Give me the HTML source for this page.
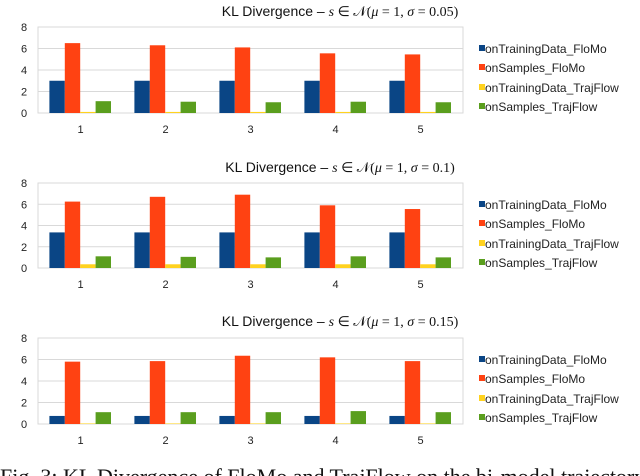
<!DOCTYPE html>
<html><head><meta charset="utf-8"><style>
body{margin:0;background:#fff;width:640px;height:476px;overflow:hidden;}
svg{display:block;}
</style></head><body>
<svg id="c" width="640" height="476" font-family="Liberation Sans, sans-serif"></svg>
<script>
const categories=["1","2","3","4","5"];
const seriesNames=["onTrainingData_FloMo","onSamples_FloMo","onTrainingData_TrajFlow","onSamples_TrajFlow"];
const yTicks=[0,2,4,6,8];
const chartTitles=["σ = 0.05","σ = 0.1","σ = 0.15"];
const c1TrainFloMo=[3,3,3,3,3];
const c1SampFloMo=[6.5,6.3,6.1,5.55,5.45];
const c1TrainTraj=[0.1,0.1,0.1,0.1,0.1];
const c1SampTraj=[1.1,1.05,1.0,1.05,1.0];
const c2TrainFloMo=[3.35,3.35,3.35,3.35,3.35];
const c2SampFloMo=[6.25,6.7,6.9,5.9,5.55];
const c2TrainTraj=[0.35,0.35,0.35,0.35,0.35];
const c2SampTraj=[1.1,1.05,1.0,1.1,1.0];
const c3TrainFloMo=[0.75,0.75,0.75,0.75,0.75];
const c3SampFloMo=[5.8,5.85,6.35,6.2,5.85];
const c3TrainTraj=[0.05,0.05,0.05,0.05,0.05];
const c3SampTraj=[1.1,1.1,1.1,1.2,1.1];
const colors=["#0a4585","#ff4212","#ffd21f","#5a9e1e"];
const svg=document.getElementById('c');
const NS="http://www.w3.org/2000/svg";
function mk(t,a,p){const e=document.createElementNS(NS,t);for(const k in a)e.setAttribute(k,a[k]);(p||svg).appendChild(e);return e;}
const charts=[
 {data:[c1TrainFloMo,c1SampFloMo,c1TrainTraj,c1SampTraj],top:27,bot:113,ty:16,leg:[50,69,89,108]},
 {data:[c2TrainFloMo,c2SampFloMo,c2TrainTraj,c2SampTraj],top:183,bot:268,ty:172,leg:[206,225,245,264]},
 {data:[c3TrainFloMo,c3SampFloMo,c3TrainTraj,c3SampTraj],top:338,bot:424,ty:326,leg:[361,380,400,419]}];
const L=38,R=463,cw=(R-L)/categories.length,bw=15.4,off=11.4;
charts.forEach((ch,ci)=>{
 const g=mk('g',{});
 
 
 const y=v=>ch.bot-(v/8)*(ch.bot-ch.top);
 const x=i=>L+i*cw;
 const t=mk('text',{x:340,y:ch.ty,'text-anchor':'middle','font-size':14,fill:'#111'},g);
 
 
 t.innerHTML='KL Divergence – <tspan font-family="Liberation Serif, serif" font-style="italic">s</tspan><tspan font-family="Liberation Serif, serif"> ∈ 𝒩(<tspan font-style="italic">μ</tspan> = 1, '+chartTitles[ci].replace('σ','<tspan font-style="italic">σ</tspan>')+')</tspan>';
 yTicks.forEach(v=>{
  const gl=mk('line',{x1:L,x2:R,y1:y(v),y2:y(v),stroke:'#d9d9d9','stroke-width':1},g);
  
  
  const tl=mk('text',{x:24,y:y(v)+4,'text-anchor':'middle','font-size':11,fill:'#222'},g);
  
  
  tl.textContent=v;
 });
 mk('rect',{x:L,y:ch.top,width:R-L,height:ch.bot-ch.top,fill:'none',stroke:'#d9d9d9'},g);
 categories.forEach((cat,i)=>{
  ch.data.forEach((s,si)=>{
   const b=mk('rect',{x:x(i)+off+si*bw,y:y(s[i]),width:bw,height:ch.bot-y(s[i]),fill:colors[si]},g);
   
   
  });
  const cl=mk('text',{x:x(i)+cw/2,y:ch.bot+20,'text-anchor':'middle','font-size':11,fill:'#222'},g);
  
  
  cl.textContent=cat;
 });
 seriesNames.forEach((n,si)=>{
  const le=mk('g',{},g);
  
  
  mk('rect',{x:479,y:ch.leg[si]-5,width:6,height:6,fill:colors[si]},le);
  const lt=mk('text',{x:485,y:ch.leg[si]+3,'font-size':12,fill:'#222'},le);
  lt.textContent=n;
 });
});
const cap=mk('text',{x:0,y:484,'font-size':22,'font-family':'Liberation Serif, serif',fill:'#111'});


cap.textContent='Fig. 3: KL Divergence of FloMo and TrajFlow on the bi-model trajectory';
</script>
</body></html>
